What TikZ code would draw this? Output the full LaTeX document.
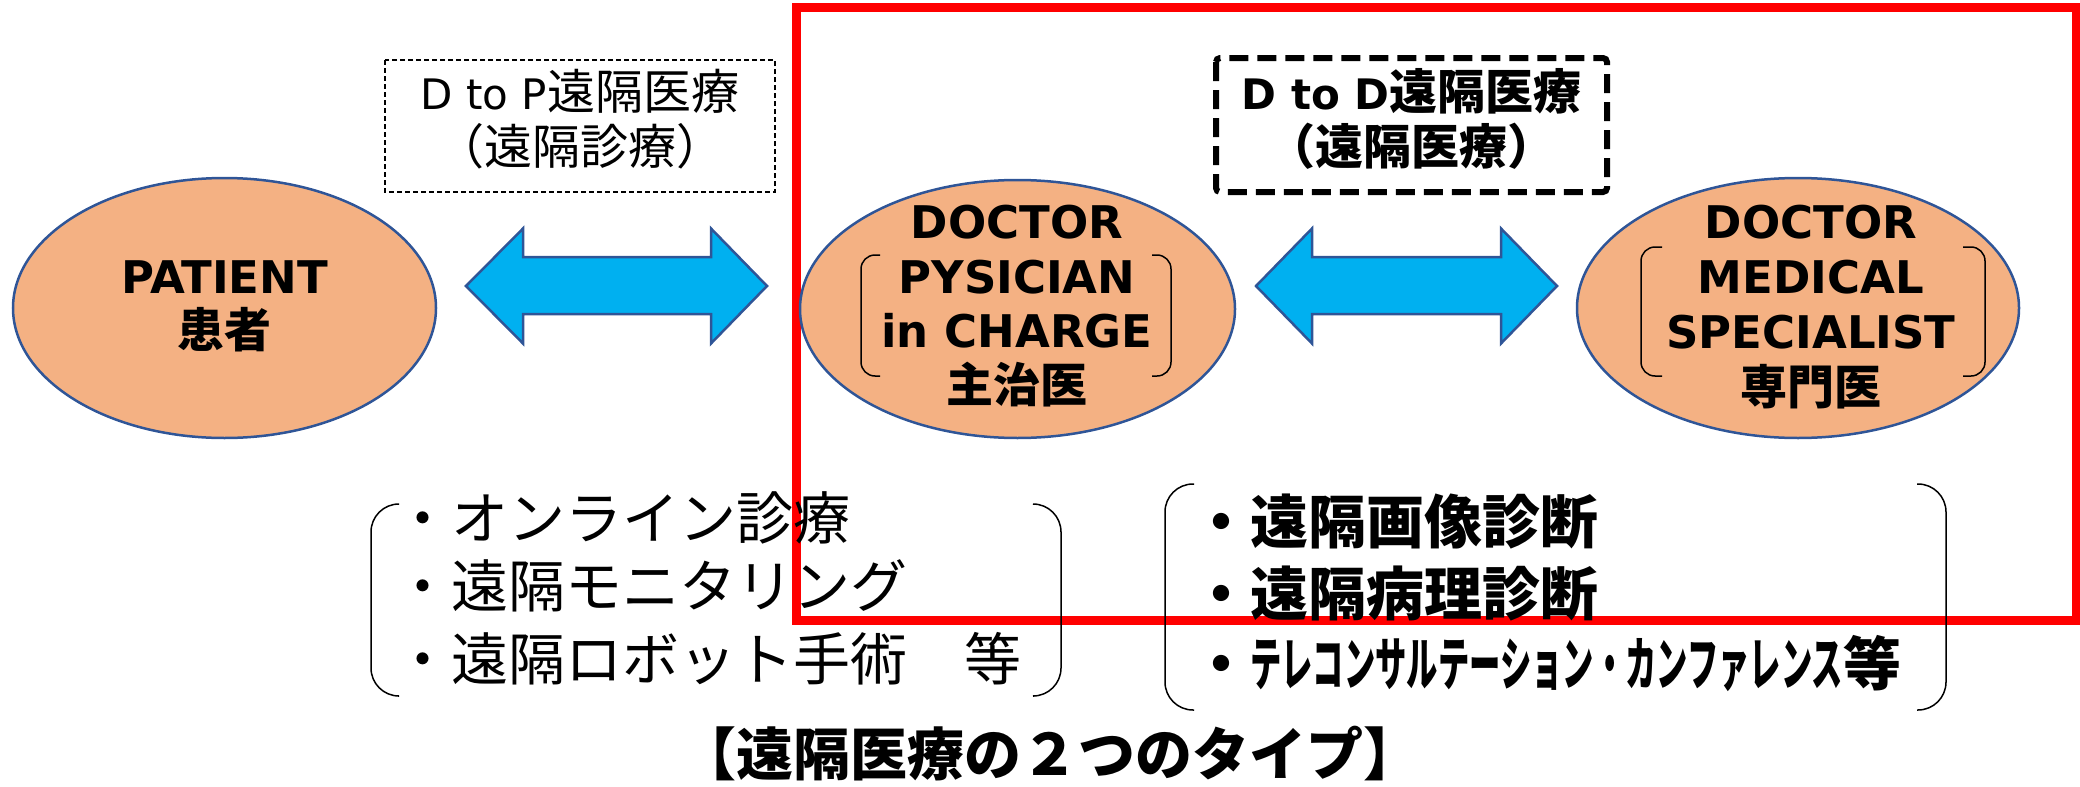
\documentclass[tikz,border=0pt]{standalone}
\usepackage{fontspec}
\usepackage{graphicx}
\setmainfont{DejaVu Sans}
\newfontfamily\jp{Noto Sans CJK JP}
\usetikzlibrary{shapes.geometric}
\definecolor{ellfill}{HTML}{F4B183}
\definecolor{ellline}{HTML}{2F5597}
\definecolor{arrfill}{HTML}{00B0F0}
\definecolor{arrline}{HTML}{2F5597}
\tikzset{
  ell/.style={ellipse, draw=ellline, line width=2.5pt, fill=ellfill, inner sep=0pt},
  blockarrow/.style={draw=arrline, line width=2.5pt, fill=arrfill, line join=miter},
  smallbrk/.style={draw=black, line width=1.5pt, rounded corners=14pt},
  bigbrk/.style={draw=black, line width=1.5pt, rounded corners=28pt},
  lbl/.style={inner sep=0pt, anchor=base},
  lblw/.style={inner sep=0pt, anchor=base west},
  ellfont/.style={font=\bfseries\fontsize{45}{53}\selectfont},
  ellfontjp/.style={font=\bfseries\jp\fontsize{47}{53}\selectfont},
}
\begin{document}
\begin{tikzpicture}[x=1pt,y=-1pt]
\useasboundingbox (0,0) rectangle (2080,787);

% red frame
\draw[red, line width=9pt] (796.5,7.5) rectangle (2076,620);

% ellipses
\node[ell, minimum width=423pt, minimum height=260pt] (pat) at (224.5,308) {};
\node[ell, minimum width=435pt, minimum height=258pt] (doc) at (1017.5,309) {};
\node[ell, minimum width=442pt, minimum height=260pt] (spec) at (1798,308) {};

% patient text
\node[lbl, ellfont] (pat1) at (224.5,293) {PATIENT};
\node[lbl, ellfontjp] (pat2) at (224.5,347) {患者};

% doctor in charge text
\node[lbl, ellfont] (doc1) at (1017,238) {DOCTOR};
\node[lbl, ellfont] (doc2) at (1017,293) {PYSICIAN};
\node[lbl, ellfont] (doc3) at (1017,347) {in CHARGE};
\node[lbl, ellfontjp] (doc4) at (1017,402) {主治医};
\draw[smallbrk] (880,255) -- (861,255) -- (861,376) -- (880,376);
\draw[smallbrk] (1152,255) -- (1171,255) -- (1171,376) -- (1152,376);

% specialist text
\node[lbl, ellfont] (spec1) at (1811,238) {DOCTOR};
\node[lbl, ellfont] (spec2) at (1811,293) {MEDICAL};
\node[lbl, ellfont] (spec3) at (1811,348) {SPECIALIST};
\node[lbl, ellfontjp] (spec4) at (1811,404) {専門医};
\draw[smallbrk] (1662,247) -- (1641,247) -- (1641,376) -- (1662,376);
\draw[smallbrk] (1963,247) -- (1985,247) -- (1985,376) -- (1963,376);

% block arrows
\draw[blockarrow] (466,286) -- (523,228.5) -- (523,257) -- (711,257) -- (711,228.5)
  -- (767,286) -- (711,343.5) -- (711,314) -- (523,314) -- (523,343.5) -- cycle;
\draw[blockarrow] (1256,286) -- (1312,228.5) -- (1312,257) -- (1501,257) -- (1501,228.5)
  -- (1557,286) -- (1501,343.5) -- (1501,314) -- (1312,314) -- (1312,343.5) -- cycle;

% D to P box
\draw[line width=1.8pt, dash pattern=on 5pt off 3pt] (385,60) rectangle (775,192);
\node[lbl, font=\fontsize{42}{48}\selectfont] (dtp1) at (580,109) {D to P{\jp\fontsize{48}{48}\selectfont 遠隔医療}};
\node[lbl, font=\jp\fontsize{48}{48}\selectfont] (dtp2) at (580,164) {（遠隔診療）};

% D to D box
\draw[line width=6pt, dash pattern=on 19pt off 9pt, rounded corners=4pt] (1216,58) rectangle (1607,192);
\node[lbl, font=\bfseries\fontsize{42}{48}\selectfont] (dtd1) at (1411.5,109) {D to D{\jp\fontsize{48}{48}\selectfont 遠隔医療}};
\node[lbl, font=\bfseries\jp\fontsize{48}{48}\selectfont] (dtd2) at (1411.5,164) {（遠隔医療）};

% left list
\draw[bigbrk] (398,504) -- (371,504) -- (371,696) -- (398,696);
\draw[bigbrk] (1034,504) -- (1061,504) -- (1061,696) -- (1034,696);
\node[lblw, font=\jp\fontsize{57}{60}\selectfont] (l1) at (394,539) {・オンライン診療};
\node[lblw, font=\jp\fontsize{57}{60}\selectfont] (l2) at (394,607) {・遠隔モニタリング};
\node[lblw, font=\jp\fontsize{57}{60}\selectfont] (l3) at (394,680) {・遠隔ロボット手術　等};

% right list
\draw[bigbrk] (1194,484) -- (1165,484) -- (1165,710) -- (1194,710);
\draw[bigbrk] (1917,484) -- (1946,484) -- (1946,710) -- (1917,710);
\node[lblw, font=\bfseries\jp\fontsize{58}{60}\selectfont] (r1) at (1192,543) {・遠隔画像診断};
\node[lblw, font=\bfseries\jp\fontsize{58}{60}\selectfont] (r2) at (1192,615) {・遠隔病理診断};
\node[lblw, font=\bfseries\jp\fontsize{58}{60}\selectfont] (r3) at (1192,685) {・\scalebox{0.54}[1]{テレコンサルテーション・カンファレンス}等};

% title
\node[lbl, font=\bfseries\jp\fontsize{57}{60}\selectfont] (title) at (1050,775) {【遠隔医療の２つのタイプ】};
\end{tikzpicture}
\end{document}
